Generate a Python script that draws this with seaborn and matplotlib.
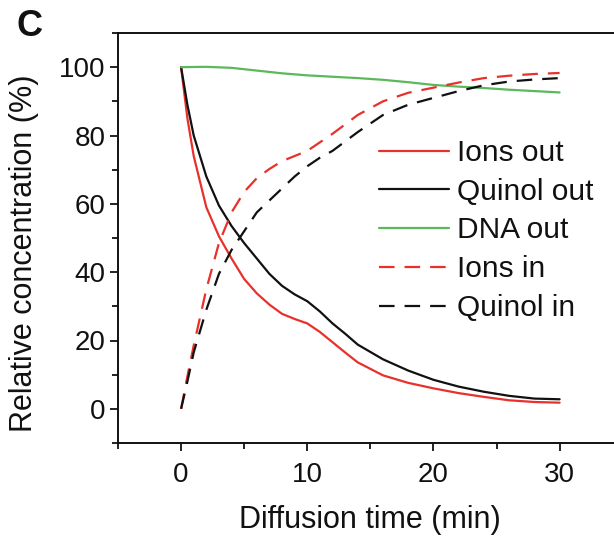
import matplotlib
matplotlib.use("Agg")
import matplotlib.pyplot as plt
import seaborn as sns
import pandas as pd
import numpy as np
from matplotlib.ticker import MultipleLocator

sns.set_style("ticks")
plt.rcParams['font.family'] = ['Liberation Sans', 'DejaVu Sans']

# Data
time_out = [0, 0.5, 1, 2, 3, 4, 5, 6, 7, 8, 9, 10, 11, 12, 13, 14, 16, 18, 20, 22, 24, 26, 28, 30]
ions_out = [100, 85, 74, 59, 50.5, 44, 38, 33.8, 30.5, 27.8, 26.3, 25, 22.5, 19.5, 16.5, 13.6,
            9.8, 7.6, 6, 4.6, 3.5, 2.5, 2.0, 1.8]
quinol_out = [100, 89, 80, 68, 59.5, 53.5, 48.5, 44, 39.5, 36, 33.5, 31.5, 28.5, 25, 22, 18.8,
              14.5, 11.2, 8.5, 6.5, 5, 3.8, 3.0, 2.8]
time_dna = [0, 2, 4, 6, 8, 10, 12, 14, 16, 18, 20, 22, 24, 26, 28, 30]
dna_out = [100, 100.1, 99.8, 99, 98.2, 97.6, 97.2, 96.8, 96.3, 95.6, 94.8, 94.3, 93.9, 93.4, 93, 92.6]
time_in = [0, 0.5, 1, 2, 3, 4, 5, 6, 7, 8, 9, 10, 11, 12, 14, 16, 18, 20, 22, 24, 26, 28, 30]
ions_in = [0, 9.5, 18.5, 35, 48.5, 57.5, 63.5, 67.5, 70.2, 72.5, 74, 75.5, 78, 80.5, 86, 90, 92.5,
           94, 95.5, 96.8, 97.5, 98, 98.3]
quinol_in = [0, 8, 16.5, 29, 39.5, 46.5, 52, 57.5, 61, 64.5, 68, 71, 73.5, 75.5, 81, 86, 89,
             91, 93, 94.7, 95.8, 96.4, 96.8]

RED = "#e8312b"
GREEN = "#5cb85c"
BLACK = "#111111"

fig = plt.figure(figsize=(6.14, 5.39), dpi=100)
ax = fig.add_axes([118/614, (539-443)/539, 504.7/614, 410/539])

lw = 1.6
sns.lineplot(x=time_out, y=ions_out, ax=ax, color=RED, lw=lw, label="Ions out")
sns.lineplot(x=time_out, y=quinol_out, ax=ax, color=BLACK, lw=lw, label="Quinol out")
sns.lineplot(x=time_dna, y=dna_out, ax=ax, color=GREEN, lw=lw, label="DNA out")
sns.lineplot(x=time_in, y=ions_in, ax=ax, color=RED, lw=lw, label="Ions in")
sns.lineplot(x=time_in, y=quinol_in, ax=ax, color=BLACK, lw=lw, label="Quinol in")
lines = ax.get_lines()
for ln in lines[3:5]:
    ln.set_dashes((7, 4.5))

ax.set_xlim(-5, 35)
ax.set_ylim(-10, 110)
ax.xaxis.set_major_locator(MultipleLocator(10))
ax.xaxis.set_minor_locator(MultipleLocator(5))
ax.yaxis.set_major_locator(MultipleLocator(20))
ax.yaxis.set_minor_locator(MultipleLocator(10))
ax.tick_params(which='major', direction='out', length=6, width=1.3, labelsize=20, pad=3, colors='#111111')
ax.tick_params(which='minor', direction='out', length=4, width=1.3, colors='#111111')
ax.tick_params(axis='x', pad=8)
for s in ['left', 'bottom', 'top', 'right']:
    ax.spines[s].set_linewidth(1.4)
    ax.spines[s].set_color('#111111')

ax.set_xlabel("Diffusion time (min)", fontsize=22, color='#111111')
ax.set_ylabel("Relative concentration (%)", fontsize=22, color='#111111')
ax.xaxis.set_label_coords((370-118)/504.7, -(505-443)/410, transform=ax.transAxes)
ax.yaxis.set_label_coords((39-118)/504.7, (443-253)/410, transform=ax.transAxes)

leg = ax.legend(loc='upper left', bbox_to_anchor=((379-118)/504.7, (443-139)/410),
                frameon=False, fontsize=21.5, handlelength=2.35, handletextpad=0.27,
                labelspacing=0.36, borderaxespad=0, borderpad=0)
for t in leg.get_texts():
    t.set_color('#111111')

fig.text(16/614, 1-27/539, "C", fontsize=26, fontweight='bold', va='center', ha='left', color='#111111')

fig.savefig("out.png", dpi=100)
